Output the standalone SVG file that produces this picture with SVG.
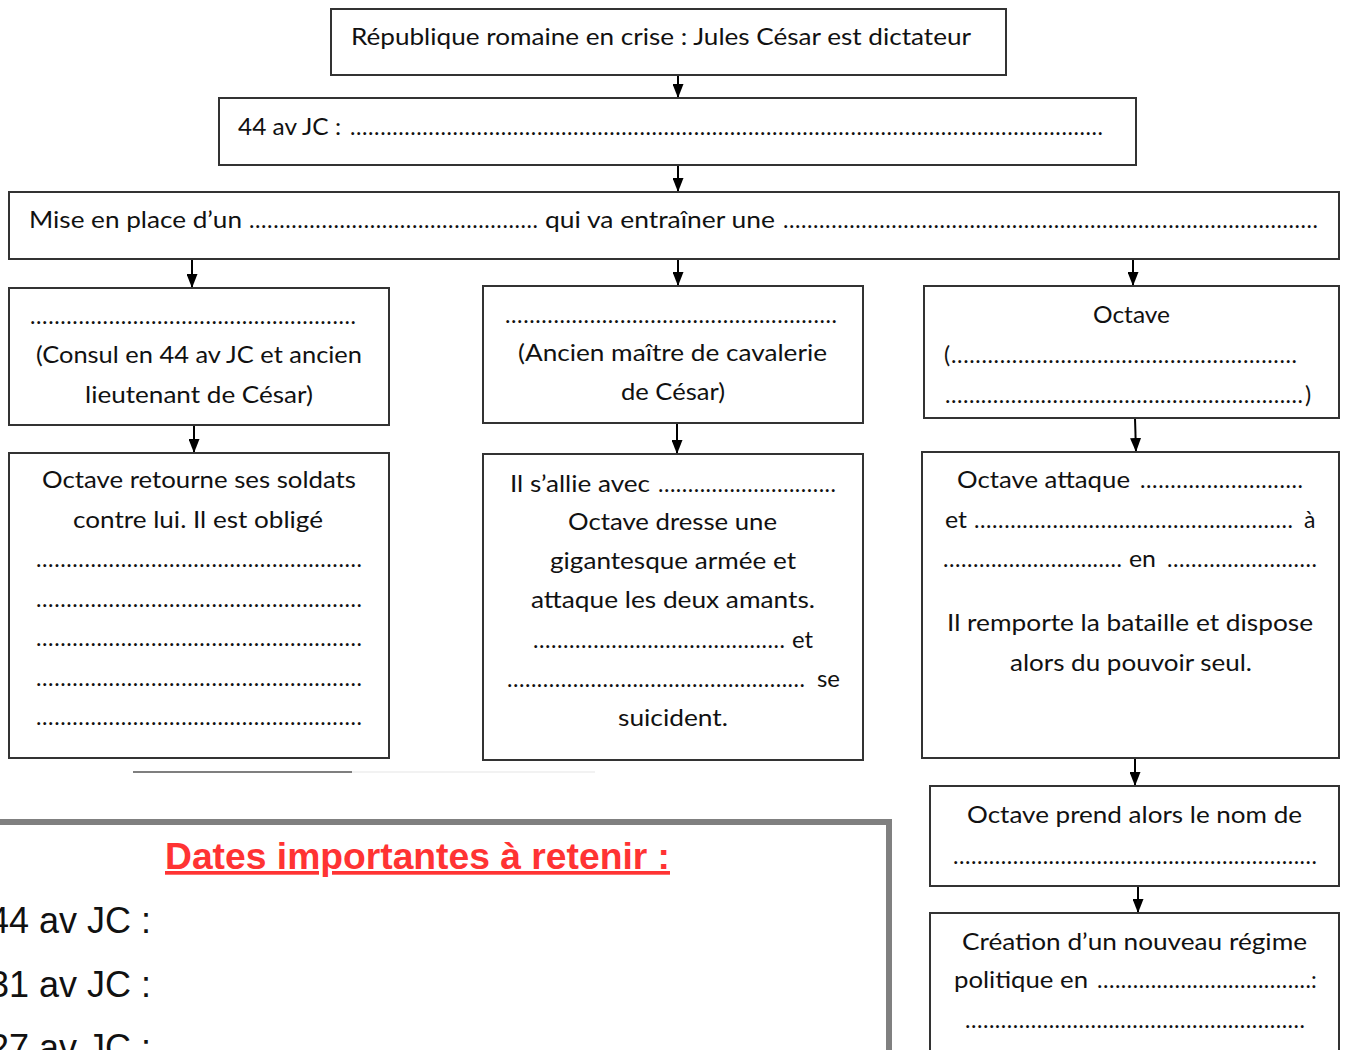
<svg xmlns="http://www.w3.org/2000/svg" width="1350" height="1050" viewBox="0 0 1350 1050">
<defs>
<style>
.t{font-family:Lato,"Open Sans","Liberation Sans",sans-serif;font-size:23px;fill:#111}
.d{font-family:Lato,"Open Sans","Liberation Sans",sans-serif;font-size:23px;fill:#111}
.box{fill:#fff;stroke:#333;stroke-width:2}
.arr{stroke:#000;stroke-width:2;fill:none;marker-end:url(#ah)}
.big{font-family:"Liberation Sans",Arial,sans-serif;font-size:36px;fill:#111}
</style>
<marker id="ah" markerUnits="userSpaceOnUse" markerWidth="14" markerHeight="11" refX="14" refY="5.5" orient="auto">
<path d="M0,0 L14,5.5 L0,11 z" fill="#000"/>
</marker>
</defs>
<rect width="1350" height="1050" fill="#fff"/>

<g id="connectors">
<line class="arr" x1="678" y1="75" x2="678" y2="98"/>
<line class="arr" x1="678" y1="165" x2="678" y2="192"/>
<line class="arr" x1="192" y1="259" x2="192" y2="288"/>
<line class="arr" x1="678" y1="259" x2="678" y2="286"/>
<line class="arr" x1="1133" y1="259" x2="1133" y2="286"/>
<line class="arr" x1="194" y1="425" x2="194" y2="453"/>
<line class="arr" x1="677" y1="423" x2="677" y2="454"/>
<line class="arr" x1="1135" y1="418" x2="1136" y2="452"/>
<line class="arr" x1="1135" y1="758" x2="1135" y2="786"/>
<line class="arr" x1="1138" y1="886" x2="1138" y2="913"/>
</g>

<g id="n-crise">
<rect class="box" x="331" y="9" width="675" height="66"/>
<text class="t" x="351" y="45" textLength="620" lengthAdjust="spacingAndGlyphs">République romaine en crise : Jules César est dictateur</text>
</g>

<g id="n-44">
<rect class="box" x="219" y="98" width="917" height="67"/>
<text class="t" x="238" y="135" textLength="103" lengthAdjust="spacingAndGlyphs">44 av JC :</text>
<text class="d" x="350" y="135" textLength="753" lengthAdjust="spacing">.............................................................................................................................</text>
</g>

<g id="n-mise">
<rect class="box" x="9" y="192" width="1330" height="67"/>
<text class="t" x="29" y="228" textLength="213" lengthAdjust="spacingAndGlyphs">Mise en place d’un</text>
<text class="d" x="249" y="228" textLength="289" lengthAdjust="spacing">................................................</text>
<text class="t" x="545" y="228" textLength="230" lengthAdjust="spacingAndGlyphs">qui va entraîner une</text>
<text class="d" x="783" y="228" textLength="535" lengthAdjust="spacing">.........................................................................................</text>
</g>

<g id="n-antoine">
<rect class="box" x="9" y="288" width="380" height="137"/>
<text class="d" x="30" y="324" textLength="326" lengthAdjust="spacing">......................................................</text>
<text class="t" x="36" y="363" textLength="326" lengthAdjust="spacingAndGlyphs">(Consul en 44 av JC et ancien</text>
<text class="t" x="85" y="403" textLength="228" lengthAdjust="spacingAndGlyphs">lieutenant de César)</text>
</g>

<g id="n-retourne">
<rect class="box" x="9" y="453" width="380" height="305"/>
<text class="t" x="42" y="488" textLength="314" lengthAdjust="spacingAndGlyphs">Octave retourne ses soldats</text>
<text class="t" x="73" y="528" textLength="250" lengthAdjust="spacingAndGlyphs">contre lui. Il est obligé</text>
<text class="d" x="36" y="567" textLength="326" lengthAdjust="spacing">......................................................</text>
<text class="d" x="36" y="607" textLength="326" lengthAdjust="spacing">......................................................</text>
<text class="d" x="36" y="646" textLength="326" lengthAdjust="spacing">......................................................</text>
<text class="d" x="36" y="686" textLength="326" lengthAdjust="spacing">......................................................</text>
<text class="d" x="36" y="725" textLength="326" lengthAdjust="spacing">......................................................</text>
</g>
<line x1="352" y1="772" x2="595" y2="772" stroke="#eeeeee" stroke-width="1.5"/>
<line x1="133" y1="772" x2="352" y2="772" stroke="#555" stroke-width="1.5"/>

<g id="n-lepide">
<rect class="box" x="483" y="286" width="380" height="137"/>
<text class="d" x="505" y="323" textLength="332" lengthAdjust="spacing">.......................................................</text>
<text class="t" x="518" y="361" textLength="309" lengthAdjust="spacingAndGlyphs">(Ancien maître de cavalerie</text>
<text class="t" x="621" y="400" textLength="104" lengthAdjust="spacingAndGlyphs">de César)</text>
</g>

<g id="n-allie">
<rect class="box" x="483" y="454" width="380" height="306"/>
<text class="t" x="510" y="492" textLength="140" lengthAdjust="spacingAndGlyphs">Il s’allie avec</text>
<text class="d" x="658" y="492" textLength="178" lengthAdjust="spacing">..............................</text>
<text class="t" x="568" y="530" textLength="209" lengthAdjust="spacingAndGlyphs">Octave dresse une</text>
<text class="t" x="550" y="569" textLength="246" lengthAdjust="spacingAndGlyphs">gigantesque armée et</text>
<text class="t" x="531" y="608" textLength="284" lengthAdjust="spacingAndGlyphs">attaque les deux amants.</text>
<text class="d" x="533" y="648" textLength="252" lengthAdjust="spacing">..........................................</text>
<text class="t" x="792" y="648" textLength="21" lengthAdjust="spacingAndGlyphs">et</text>
<text class="d" x="507" y="687" textLength="298" lengthAdjust="spacing">..................................................</text>
<text class="t" x="817" y="687" textLength="23" lengthAdjust="spacingAndGlyphs">se</text>
<text class="t" x="618" y="726" textLength="110" lengthAdjust="spacingAndGlyphs">suicident.</text>
</g>

<g id="n-octave">
<rect class="box" x="924" y="286" width="415" height="132"/>
<text class="t" x="1093" y="323" textLength="77" lengthAdjust="spacingAndGlyphs">Octave</text>
<text class="t" x="944" y="363">(</text>
<text class="d" x="951" y="363" textLength="346" lengthAdjust="spacing">.........................................................</text>
<text class="d" x="945" y="403" textLength="358" lengthAdjust="spacing">............................................................</text>
<text class="t" x="1305" y="403">)</text>
</g>

<g id="n-attaque">
<rect class="box" x="922" y="452" width="417" height="306"/>
<text class="t" x="957" y="488" textLength="173" lengthAdjust="spacingAndGlyphs">Octave attaque</text>
<text class="d" x="1140" y="488" textLength="163" lengthAdjust="spacing">...........................</text>
<text class="t" x="945" y="528" textLength="22" lengthAdjust="spacingAndGlyphs">et</text>
<text class="d" x="974" y="528" textLength="319" lengthAdjust="spacing">.....................................................</text>
<text class="t" x="1304" y="528">à</text>
<text class="d" x="943" y="567" textLength="179" lengthAdjust="spacing">..............................</text>
<text class="t" x="1129" y="567" textLength="27" lengthAdjust="spacingAndGlyphs">en</text>
<text class="d" x="1167" y="567" textLength="150" lengthAdjust="spacing">.........................</text>
<text class="t" x="947" y="631" textLength="366" lengthAdjust="spacingAndGlyphs">Il remporte la bataille et dispose</text>
<text class="t" x="1010" y="671" textLength="242" lengthAdjust="spacingAndGlyphs">alors du pouvoir seul.</text>
</g>

<g id="n-nom">
<rect class="box" x="930" y="786" width="409" height="100"/>
<text class="t" x="967" y="823" textLength="335" lengthAdjust="spacingAndGlyphs">Octave prend alors le nom de</text>
<text class="d" x="953" y="864" textLength="364" lengthAdjust="spacing">.............................................................</text>
</g>

<g id="n-regime">
<rect class="box" x="930" y="913" width="409" height="160"/>
<text class="t" x="962" y="950" textLength="345" lengthAdjust="spacingAndGlyphs">Création d’un nouveau régime</text>
<text class="t" x="954" y="988" textLength="134" lengthAdjust="spacingAndGlyphs">politique en</text>
<text class="d" x="1097" y="988" textLength="214" lengthAdjust="spacing">....................................</text>
<text class="t" x="1311" y="988">:</text>
<text class="d" x="965" y="1028" textLength="340" lengthAdjust="spacing">.........................................................</text>
</g>

<g id="n-dates">
<rect x="-10" y="822" width="899" height="300" fill="#fff" stroke="#808080" stroke-width="6"/>
<text x="165" y="869" textLength="505" lengthAdjust="spacingAndGlyphs" font-family="'Liberation Sans',Arial,sans-serif" font-size="37" font-weight="bold" fill="#ff3333" text-decoration="underline">Dates importantes à retenir :</text>
<text class="big" x="-11" y="933" textLength="162" lengthAdjust="spacingAndGlyphs">44 av JC :</text>
<text class="big" x="-11" y="997" textLength="162" lengthAdjust="spacingAndGlyphs">31 av JC :</text>
<text class="big" x="-11" y="1060" textLength="162" lengthAdjust="spacingAndGlyphs">27 av JC :</text>
</g>
</svg>
